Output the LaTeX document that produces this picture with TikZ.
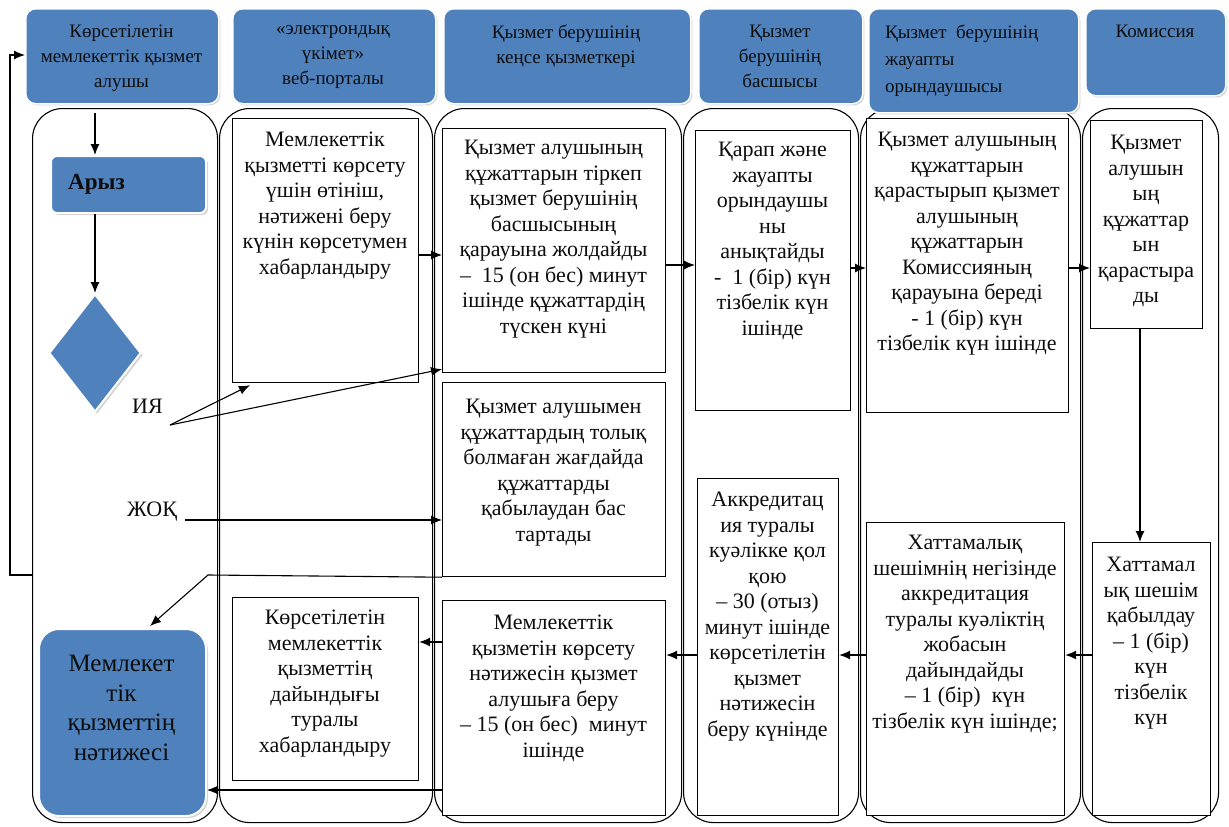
\documentclass[tikz,border=0pt]{standalone}
\usepackage{fontspec}
\setmainfont{Liberation Serif}
\usetikzlibrary{arrows.meta,shapes.geometric,shadows,calc}
\definecolor{hblue}{HTML}{4F81BD}
\definecolor{tdark}{HTML}{0D0D0D}
\begin{document}
\begin{tikzpicture}[x=1pt,y=-1pt,
  hdr/.style={rounded corners=10pt, fill=hblue, draw=white, line width=1.5pt, anchor=north west, inner sep=0,
    drop shadow={shadow xshift=1.5pt, shadow yshift=-1.5pt, opacity=0.35}},
  htxt/.style={font=\fontsize{19}{25}\selectfont, align=center, anchor=north, inner sep=0, text=tdark},
  lane/.style={draw=black, line width=1.1pt, rounded corners=30pt, anchor=north west, inner sep=0},
  pbox/.style={draw=black, line width=1.2pt, fill=white, anchor=north west, inner sep=0},
  btxt/.style={font=\fontsize{22}{25.5}\selectfont, align=center, anchor=north, inner sep=0, text=tdark},
  bluebox/.style={fill=hblue, draw=white, line width=2pt, inner sep=0,
    drop shadow={shadow xshift=2pt, shadow yshift=-2pt, opacity=0.35}},
  arr/.style={-{Latex[length=11pt,width=9pt]}, line width=1.1pt},
  lbl/.style={font=\fontsize{22}{25}\selectfont, inner sep=0, text=tdark}
]
\useasboundingbox (0,0) rectangle (1229,827);
\fill[white] (0,0) rectangle (1229,827);

% lanes
\node[lane, minimum width=185, minimum height=714] (l1) at (32,108) {};
\node[lane, minimum width=213, minimum height=714] (l2) at (219,108) {};
\node[lane, minimum width=247, minimum height=714] (l3) at (434,108) {};
\node[lane, minimum width=175, minimum height=714] (l4) at (683,108) {};
\node[lane, minimum width=220, minimum height=714] (l5) at (860,108) {};
\node[lane, minimum width=136, minimum height=714] (l6) at (1082,108) {};

% headers
\node[hdr, minimum width=193, minimum height=95] (h1) at (25,8) {};
\node[htxt] (h1t) at (121.5,25) {Көрсетілетін\\мемлекеттік қызмет\\алушы};
\node[hdr, minimum width=203, minimum height=95] (h2) at (232,8) {};
\node[htxt] (h2t) at (333,25) {«электрондық\\үкімет»\\веб-порталы};
\node[hdr, minimum width=247, minimum height=95] (h3) at (443,8) {};
\node[htxt] (h3t) at (566,25) {Қызмет берушінің\\кеңсе қызметкері};
\node[hdr, minimum width=164, minimum height=95] (h4) at (698,8) {};
\node[htxt] (h4t) at (780,25) {Қызмет\\берушінің\\басшысы};
\node[hdr, minimum width=210, minimum height=104] (h5) at (868,8) {};
\node[htxt, align=left, anchor=north west, font=\fontsize{19}{27}\selectfont] (h5t) at (885,25) {Қызмет\ \ берушінің\\жауапты\\орындаушысы};
\node[hdr, minimum width=140, minimum height=87] (h6) at (1085,8) {};
\node[htxt] (h6t) at (1155,25) {Комиссия};

% lane 1 shapes
\node[bluebox, rounded corners=6pt, anchor=north west, minimum width=155, minimum height=57] (az) at (50,155) {};
\node[lbl, anchor=west, font=\fontsize{23}{25}\selectfont\bfseries] (azt) at (68,184) {Арыз};
\node[bluebox, diamond, minimum width=92, minimum height=118] (dm) at (95,353) {};
\node[lbl, anchor=west] (iyt) at (132,406) {ИЯ};
\node[lbl, anchor=west] (jqt) at (127,512) {ЖОҚ};
\node[bluebox, rounded corners=20pt, anchor=north west, minimum width=167, minimum height=187] (res) at (38,628) {};
\node[btxt, font=\fontsize{25}{29.5}\selectfont] (rest) at (121.5,655) {Мемлекет\\тік\\қызметтің\\нәтижесі};

% process boxes
\node[pbox, minimum width=186, minimum height=264] (b21) at (232,118) {};
\node[btxt] (t21) at (325,132) {Мемлекеттік\\қызметті көрсету\\үшін өтініш,\\нәтижені беру\\күнін көрсетумен\\хабарландыру};
\node[pbox, minimum width=186, minimum height=183] (b22) at (232,597) {};
\node[btxt] (t22) at (325,610) {Көрсетілетін\\мемлекеттік\\қызметтің\\дайындығы\\туралы\\хабарландыру};

\node[pbox, minimum width=223, minimum height=244] (b31) at (442,128) {};
\node[btxt] (t31) at (553.5,140) {Қызмет алушының\\құжаттарын тіркеп\\қызмет берушінің\\басшысының\\қарауына жолдайды\\–\ \ 15 (он бес) минут\\ішінде құжаттардің\\түскен күні};
\node[pbox, minimum width=223, minimum height=194] (b32) at (442,382) {};
\node[btxt] (t32) at (553.5,399) {Қызмет алушымен\\құжаттардың толық\\болмаған жағдайда\\құжаттарды\\қабылаудан бас\\тартады};
\node[pbox, minimum width=223, minimum height=215] (b33) at (442,600) {};
\node[btxt] (t33) at (553.5,615) {Мемлекеттік\\қызметін көрсету\\нәтижесін қызмет\\алушыға беру\\– 15 (он бес)\ \ минут\\ішінде};

\node[pbox, minimum width=155, minimum height=280] (b41) at (695,130) {};
\node[btxt] (t41) at (772.5,142) {Қарап және\\жауапты\\орындаушы\\ны\\анықтайды\\-\ \ 1 (бір) күн\\тізбелік күн\\ішінде};
\node[pbox, minimum width=141, minimum height=337] (b42) at (697,478) {};
\node[btxt] (t42) at (767.5,492) {Аккредитац\\ия туралы\\куәлікке қол\\қою\\– 30 (отыз)\\минут ішінде\\көрсетілетін\\қызмет\\нәтижесін\\беру күнінде};

\node[pbox, minimum width=202, minimum height=294] (b51) at (866,118) {};
\node[btxt] (t51) at (967,132) {Қызмет алушының\\құжаттарын\\қарастырып қызмет\\алушының\\құжаттарын\\Комиссияның\\қарауына береді\\- 1 (бір) күн\\тізбелік күн ішінде};
\node[pbox, minimum width=198, minimum height=293] (b52) at (866,522) {};
\node[btxt] (t52) at (965,535) {Хаттамалық\\шешімнің негізінде\\аккредитация\\туралы куәліктің\\жобасын\\дайындайды\\– 1 (бір)\ \ күн\\тізбелік күн ішінде;};

\node[pbox, minimum width=112, minimum height=208] (b61) at (1090,120) {};
\node[btxt] (t61) at (1146,135) {Қызмет\\алушын\\ың\\құжаттар\\ын\\қарастыра\\ды};
\node[pbox, minimum width=118, minimum height=273] (b62) at (1092,542) {};
\node[btxt] (t62) at (1151,557) {Хаттамал\\ық шешім\\қабылдау\\– 1 (бір)\\күн\\тізбелік\\күн};

% coordinates
\coordinate (fb1) at (10,575);
\coordinate (fb2) at (10,55);
\coordinate (c1) at (95,113);
\coordinate (iy) at (170,425);
\coordinate (jq) at (185,520);
\coordinate (bend) at (208,575);
\coordinate (restop) at (150,626);
\coordinate (x61) at (1140,0);
\coordinate (y255) at (0,255);
\coordinate (y265) at (0,265);
\coordinate (y268) at (0,268);
\coordinate (y655) at (0,655);
\coordinate (y642) at (0,642);
\coordinate (y790) at (0,790);

% connectors
\draw[arr] (l1.west |- fb1) -- (fb1) -- (fb2) -- (h1.west |- fb2);
\draw[arr] (c1) -- (c1 |- az.north);
\draw[arr] (az.south -| dm.north) -- (dm.north);
\draw[arr] (iy) -- ($(b21.south west)+(18,2)$);
\draw[arr] (iy) -- ($(b31.south west)+(0,-4)$);
\draw[arr] (jq) -- (jq -| b32.west);
\draw[arr] (b32.south west) -- (bend) -- (restop);
\draw[arr] (b33.west |- y790) -- (res.east |- y790);
\draw[arr] (b21.east |- y255) -- (b31.west |- y255);
\draw[arr] (b31.east |- y265) -- (b41.west |- y265);
\draw[arr] (b41.east |- y268) -- (b51.west |- y268);
\draw[arr] (b51.east |- y268) -- (b61.west |- y268);
\draw[arr] (x61 |- b61.south) -- (x61 |- b62.north);
\draw[arr] (b62.west |- y655) -- (b52.east |- y655);
\draw[arr] (b52.west |- y655) -- (b42.east |- y655);
\draw[arr] (b42.west |- y655) -- (b33.east |- y655);
\draw[arr] (b33.west |- y642) -- (b22.east |- y642);
\end{tikzpicture}
\end{document}
